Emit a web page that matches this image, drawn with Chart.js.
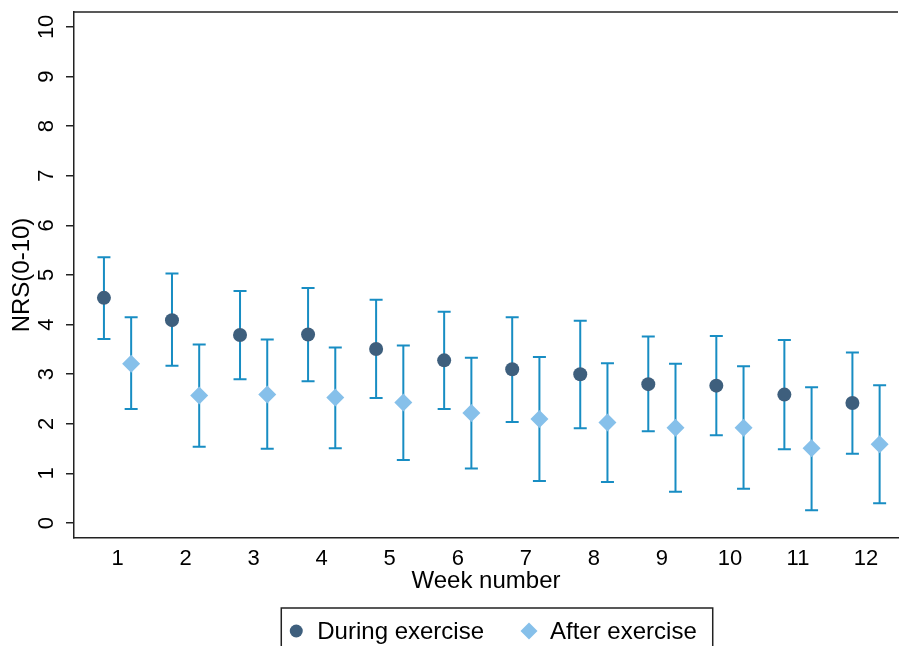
<!DOCTYPE html>
<html>
<head>
<meta charset="utf-8">
<script src="https://cdn.jsdelivr.net/npm/chart.js@4.4.1/dist/chart.umd.min.js"></script>
<style>
  html, body { margin: 0; padding: 0; background: #fff; overflow: hidden; }
  #wrap { width: 907px; height: 646px; }
</style>
</head>
<body>
<div id="wrap"><canvas id="nrsChart" width="907" height="646"></canvas></div>
<script>
// Semanas e valores (média e intervalo)
const weeks = [1, 2, 3, 4, 5, 6, 7, 8, 9, 10, 11, 12];
const yTicks = [0, 1, 2, 3, 4, 5, 6, 7, 8, 9, 10];

const duringMean  = [4.54, 4.09, 3.79, 3.80, 3.51, 3.28, 3.10, 3.00, 2.80, 2.77, 2.59, 2.42];
const duringLower = [3.71, 3.17, 2.90, 2.86, 2.52, 2.30, 2.04, 1.91, 1.85, 1.77, 1.49, 1.40];
const duringUpper = [5.36, 5.03, 4.68, 4.74, 4.50, 4.26, 4.15, 4.08, 3.76, 3.77, 3.69, 3.44];

const afterMean  = [3.21, 2.57, 2.59, 2.53, 2.43, 2.22, 2.10, 2.03, 1.92, 1.92, 1.51, 1.59];
const afterLower = [2.30, 1.54, 1.50, 1.51, 1.27, 1.10, 0.85, 0.83, 0.63, 0.69, 0.26, 0.40];
const afterUpper = [4.15, 3.60, 3.70, 3.54, 3.58, 3.33, 3.35, 3.22, 3.21, 3.16, 2.74, 2.78];

const DURING_COLOR = '#3e5f7d';
const AFTER_COLOR = '#86c0ea';
const BAR_COLOR = '#188dc3';
const FONT = "'Liberation Sans', Arial, sans-serif";
const SHIFT = 0.2; // deslocamento horizontal de cada série em torno da semana

function buildPoints(means, lower, upper, shift) {
    return weeks.map((w, i) => ({ x: w + shift, y: means[i], lo: lower[i], hi: upper[i] }));
}

// Desenha as barras de erro usando as escalas do próprio Chart.js
const errorBarsPlugin = {
    id: 'errorBars',
    beforeDatasetsDraw(chart) {
        const { ctx, scales: { x, y } } = chart;
        ctx.save();
        ctx.strokeStyle = BAR_COLOR;
        ctx.lineWidth = 2;
        chart.data.datasets.forEach(ds => {
            ds.data.forEach(pt => {
                const px = x.getPixelForValue(pt.x);
                const pLo = y.getPixelForValue(pt.lo);
                const pHi = y.getPixelForValue(pt.hi);
                ctx.beginPath();
                ctx.moveTo(px, pLo);
                ctx.lineTo(px, pHi);
                ctx.moveTo(px - 6.5, pLo);
                ctx.lineTo(px + 6.5, pLo);
                ctx.moveTo(px - 6.5, pHi);
                ctx.lineTo(px + 6.5, pHi);
                ctx.stroke();
            });
        });
        ctx.restore();
    }
};

// Rótulos do eixo Y girados, linha superior da moldura e legenda com caixa
const decorPlugin = {
    id: 'decor',
    afterDraw(chart) {
        const { ctx, chartArea, scales: { y } } = chart;
        ctx.save();

        // linha superior
        ctx.strokeStyle = '#222';
        ctx.lineWidth = 1.5;
        ctx.beginPath();
        ctx.moveTo(chartArea.left, chartArea.top);
        ctx.lineTo(chartArea.right, chartArea.top);
        ctx.stroke();

        // rótulos do eixo Y
        ctx.fillStyle = '#000';
        ctx.font = `22px ${FONT}`;
        ctx.textAlign = 'center';
        ctx.textBaseline = 'middle';
        yTicks.forEach(v => {
            ctx.save();
            ctx.translate(chartArea.left - 27, y.getPixelForValue(v));
            ctx.rotate(-Math.PI / 2);
            ctx.fillText(String(v), 0, 0);
            ctx.restore();
        });

        // legenda
        ctx.font = `24px ${FONT}`;
        ctx.textAlign = 'left';
        const labels = chart.data.datasets.map(ds => ds.label);
        const w1 = ctx.measureText(labels[0]).width;
        const w2 = ctx.measureText(labels[1]).width;
        const boxW = 15 + 21 + w1 + 45 + 21 + w2 + 16;
        const boxLeft = (chartArea.left + chartArea.right) / 2 - boxW / 2 + 11;
        const boxTop = 608;
        const cy = 631;
        ctx.strokeStyle = '#222';
        ctx.lineWidth = 1.5;
        ctx.strokeRect(boxLeft, boxTop, boxW, 80);

        const m1 = boxLeft + 15;
        ctx.fillStyle = DURING_COLOR;
        ctx.beginPath();
        ctx.arc(m1, cy, 6.5, 0, Math.PI * 2);
        ctx.fill();
        ctx.fillStyle = '#000';
        ctx.fillText(labels[0], m1 + 21, cy + 1);

        const m2 = m1 + 21 + w1 + 45;
        ctx.fillStyle = AFTER_COLOR;
        ctx.beginPath();
        ctx.moveTo(m2, cy - 8.5);
        ctx.lineTo(m2 + 8.5, cy);
        ctx.lineTo(m2, cy + 8.5);
        ctx.lineTo(m2 - 8.5, cy);
        ctx.closePath();
        ctx.fill();
        ctx.fillStyle = '#000';
        ctx.fillText(labels[1], m2 + 21, cy + 1);

        ctx.restore();
    }
};

const ctx = document.getElementById('nrsChart').getContext('2d');
new Chart(ctx, {
    type: 'scatter',
    data: {
        datasets: [
            {
                label: 'During exercise',
                data: buildPoints(duringMean, duringLower, duringUpper, -SHIFT),
                pointStyle: 'circle',
                pointRadius: 7,
                pointHoverRadius: 7,
                backgroundColor: DURING_COLOR,
                borderColor: DURING_COLOR,
                borderWidth: 0
            },
            {
                label: 'After exercise',
                data: buildPoints(afterMean, afterLower, afterUpper, SHIFT),
                pointStyle: 'rectRot',
                pointRadius: 9,
                pointHoverRadius: 9,
                backgroundColor: AFTER_COLOR,
                borderColor: AFTER_COLOR,
                borderWidth: 0
            }
        ]
    },
    options: {
        responsive: false,
        animation: false,
        events: [],
        layout: { padding: { top: 12, right: 0, bottom: 46, left: 0 } },
        plugins: {
            legend: { display: false },
            tooltip: { enabled: false }
        },
        scales: {
            x: {
                type: 'linear',
                min: 0.36,
                max: 12.47,
                afterBuildTicks: scale => { scale.ticks = weeks.map(v => ({ value: v })); },
                afterFit: scale => { scale.height = 62; },
                grid: { display: false },
                border: { display: true, color: '#222', width: 1.5 },
                ticks: {
                    color: '#000',
                    font: { family: FONT, size: 22 },
                    padding: 0,
                    maxRotation: 0,
                    autoSkip: false
                },
                title: {
                    display: true,
                    text: 'Week number',
                    color: '#000',
                    font: { family: FONT, size: 24 },
                    padding: { top: 0, bottom: 4 }
                }
            },
            y: {
                min: -0.3,
                max: 10.3,
                afterBuildTicks: scale => { scale.ticks = yTicks.map(v => ({ value: v })); },
                afterFit: scale => { scale.width = 74; },
                grid: {
                    display: true,
                    drawOnChartArea: false,
                    drawTicks: true,
                    tickLength: 8,
                    color: '#222',
                    lineWidth: 1.5
                },
                border: { display: true, color: '#222', width: 1.5 },
                ticks: { display: false },
                title: {
                    display: true,
                    text: 'NRS(0-10)',
                    color: '#000',
                    font: { family: FONT, size: 24 },
                    padding: { top: 8, bottom: 0 }
                }
            }
        }
    },
    plugins: [errorBarsPlugin, decorPlugin]
});
</script>
</body>
</html>
